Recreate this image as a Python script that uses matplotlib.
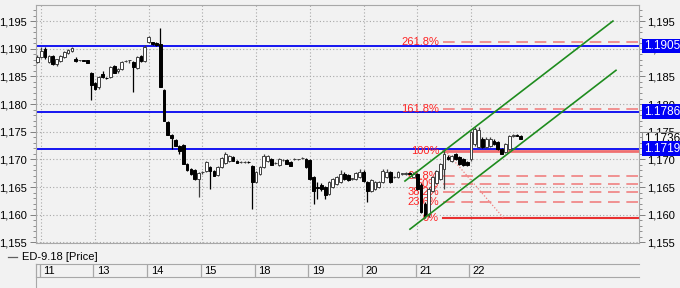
"""Recreate the ED-9.18 hourly candlestick chart with levels, fibo and channel."""

import matplotlib

matplotlib.use("Agg")
import matplotlib.pyplot as plt
from matplotlib.lines import Line2D
from matplotlib.ticker import FuncFormatter, MultipleLocator
from matplotlib.transforms import blended_transform_factory

plt.rcParams["font.family"] = ["Liberation Sans", "DejaVu Sans"]

# --- data ----------------------------------------------------------------
day_labels = ["11", "13", "14", "15", "18", "19", "20", "21", "22"]
day_start_bar = [1, 15, 29, 43, 57, 71, 85, 99, 113]

opens = [
    1.1876, 1.1885, 1.1899, 1.1876, 1.1886, 1.1872, 1.1877, 1.1885, 1.1892, 1.1895, 1.1881, 1.1879, 1.1879, 1.1879,
    1.1856, 1.1838, 1.1830, 1.1854, 1.1848, 1.1849, 1.1868, 1.1859, 1.1863, 1.1877, 1.1879, 1.1876, 1.1865, 1.1886, 1.1877,
    1.1912, 1.1912, 1.1910, 1.1908, 1.1825, 1.1767, 1.1744, 1.1735, 1.1724, 1.1726, 1.1691, 1.1682, 1.1681, 1.1665,
    1.1677, 1.1679, 1.1686, 1.1679, 1.1672, 1.1686, 1.1693, 1.1697, 1.1704, 1.1697, 1.1695, 1.1695, 1.1696,
    1.1688, 1.1659, 1.1674, 1.1686, 1.1697, 1.1700, 1.1693, 1.1690, 1.1699, 1.1699, 1.1695, 1.1700, 1.1700, 1.1702, 1.1700,
    1.1699, 1.1668, 1.1650, 1.1654, 1.1650, 1.1637, 1.1650, 1.1655, 1.1659, 1.1674, 1.1672, 1.1665, 1.1665, 1.1668,
    1.1677, 1.1659, 1.1643, 1.1646, 1.1650, 1.1659, 1.1668, 1.1677, 1.1668, 1.1668, 1.1674, 1.1674, 1.1675, 1.1668,
    1.1674, 1.1654, 1.1619, 1.1601, 1.1643, 1.1657, 1.1665, 1.1682, 1.1704, 1.1697, 1.1709, 1.1704, 1.1700, 1.1695,
    1.1700, 1.1727, 1.1722, 1.1737, 1.1722, 1.1724, 1.1733, 1.1731, 1.1719, 1.1713, 1.1719, 1.1742, 1.1744, 1.1742,
]
highs = [
    1.1888, 1.1903, 1.1903, 1.1888, 1.1888, 1.1882, 1.1888, 1.1895, 1.1899, 1.1903, 1.1885, 1.1880, 1.1880, 1.1880,
    1.1858, 1.1840, 1.1850, 1.1859, 1.1849, 1.1868, 1.1870, 1.1865, 1.1877, 1.1879, 1.1879, 1.1877, 1.1886, 1.1888, 1.1906,
    1.1923, 1.1913, 1.1912, 1.1937, 1.1827, 1.1769, 1.1746, 1.1737, 1.1726, 1.1728, 1.1693, 1.1684, 1.1682, 1.1677,
    1.1679, 1.1697, 1.1688, 1.1681, 1.1688, 1.1704, 1.1713, 1.1708, 1.1706, 1.1699, 1.1697, 1.1697, 1.1698,
    1.1690, 1.1679, 1.1688, 1.1709, 1.1708, 1.1702, 1.1695, 1.1702, 1.1700, 1.1700, 1.1697, 1.1702, 1.1701, 1.1704, 1.1702,
    1.1700, 1.1670, 1.1659, 1.1657, 1.1652, 1.1661, 1.1666, 1.1670, 1.1681, 1.1677, 1.1674, 1.1666, 1.1677, 1.1682,
    1.1681, 1.1661, 1.1665, 1.1661, 1.1661, 1.1682, 1.1682, 1.1679, 1.1670, 1.1679, 1.1675, 1.1677, 1.1677, 1.1677,
    1.1675, 1.1657, 1.1623, 1.1650, 1.1670, 1.1681, 1.1693, 1.1719, 1.1708, 1.1708, 1.1711, 1.1706, 1.1702, 1.1697,
    1.1751, 1.1758, 1.1758, 1.1740, 1.1740, 1.1740, 1.1737, 1.1733, 1.1720, 1.1729, 1.1744, 1.1746, 1.1746, 1.1744,
]
lows = [
    1.1874, 1.1883, 1.1881, 1.1874, 1.1870, 1.1868, 1.1876, 1.1883, 1.1890, 1.1894, 1.1876, 1.1878, 1.1877, 1.1874,
    1.1807, 1.1825, 1.1828, 1.1847, 1.1845, 1.1847, 1.1856, 1.1857, 1.1862, 1.1876, 1.1874, 1.1821, 1.1863, 1.1876, 1.1876,
    1.1910, 1.1906, 1.1905, 1.1830, 1.1769, 1.1744, 1.1719, 1.1724, 1.1709, 1.1691, 1.1679, 1.1672, 1.1663, 1.1632,
    1.1674, 1.1677, 1.1646, 1.1670, 1.1670, 1.1684, 1.1691, 1.1695, 1.1697, 1.1693, 1.1693, 1.1694, 1.1694,
    1.1610, 1.1657, 1.1672, 1.1684, 1.1695, 1.1690, 1.1691, 1.1688, 1.1697, 1.1691, 1.1688, 1.1699, 1.1699, 1.1700, 1.1684,
    1.1663, 1.1619, 1.1628, 1.1643, 1.1628, 1.1636, 1.1648, 1.1654, 1.1657, 1.1663, 1.1661, 1.1663, 1.1663, 1.1666,
    1.1659, 1.1623, 1.1641, 1.1645, 1.1648, 1.1657, 1.1666, 1.1657, 1.1666, 1.1666, 1.1672, 1.1672, 1.1674, 1.1666,
    1.1645, 1.1603, 1.1594, 1.1596, 1.1641, 1.1655, 1.1663, 1.1646, 1.1699, 1.1695, 1.1699, 1.1690, 1.1688, 1.1688,
    1.1698, 1.1724, 1.1720, 1.1720, 1.1720, 1.1722, 1.1726, 1.1717, 1.1709, 1.1711, 1.1717, 1.1740, 1.1742, 1.1736,
]
closes = [
    1.1885, 1.1895, 1.1885, 1.1886, 1.1872, 1.1881, 1.1886, 1.1894, 1.1897, 1.1901, 1.1877, 1.1879, 1.1878, 1.1874,
    1.1834, 1.1827, 1.1849, 1.1849, 1.1847, 1.1867, 1.1856, 1.1863, 1.1876, 1.1878, 1.1879, 1.1867, 1.1885, 1.1877, 1.1904,
    1.1921, 1.1908, 1.1906, 1.1830, 1.1769, 1.1744, 1.1738, 1.1724, 1.1715, 1.1691, 1.1681, 1.1674, 1.1665, 1.1675,
    1.1677, 1.1695, 1.1679, 1.1670, 1.1686, 1.1702, 1.1709, 1.1706, 1.1697, 1.1693, 1.1695, 1.1696, 1.1695,
    1.1659, 1.1677, 1.1686, 1.1706, 1.1706, 1.1690, 1.1693, 1.1700, 1.1699, 1.1691, 1.1688, 1.1700, 1.1700, 1.1702, 1.1686,
    1.1665, 1.1643, 1.1648, 1.1646, 1.1636, 1.1659, 1.1665, 1.1668, 1.1674, 1.1665, 1.1663, 1.1665, 1.1675, 1.1677,
    1.1661, 1.1643, 1.1663, 1.1659, 1.1659, 1.1679, 1.1677, 1.1659, 1.1668, 1.1677, 1.1674, 1.1675, 1.1674, 1.1674,
    1.1646, 1.1605, 1.1597, 1.1646, 1.1668, 1.1679, 1.1691, 1.1709, 1.1700, 1.1706, 1.1700, 1.1691, 1.1690, 1.1690,
    1.1749, 1.1755, 1.1753, 1.1722, 1.1737, 1.1737, 1.1727, 1.1719, 1.1709, 1.1727, 1.1742, 1.1744, 1.1743, 1.1736,
]

level_lines = [1.1905, 1.1786, 1.1719]
last_price = 1.1736

fib_low = 1.1595
fib_high = 1.1716
fib_ratios = [0.0, 0.236, 0.382, 0.5, 0.618, 1.0, 1.618, 2.618]
fib_labels = ["0%", "23.6%", "38.2%", "50%", "61.8%", "100%", "161.8%", "261.8%"]
fib_start_bar = 106.3
fib_end_bar = 121.4

channel_upper_x = [95.8, 150.0]
channel_upper_y = [1.1661, 1.1950]
channel_lower_x = [97.1, 150.8]
channel_lower_y = [1.1574, 1.1861]

# --- figure ----------------------------------------------------------------
BG = "#f2f2f2"
GRID = "#a8a8a8"
W, H = 680, 288

fig = plt.figure(figsize=(W / 100, H / 100), dpi=100, facecolor=BG)


def px_rect(x0, y0, x1, y1):
    return [x0 / W, 1 - y1 / H, (x1 - x0) / W, (y1 - y0) / H]


ax = fig.add_axes(px_rect(35.5, 5, 639, 243))
ax.set_facecolor(BG)
ax.set_xlim(-0.5, 156.8)
ax.set_ylim(1.1549, 1.1979)

for spine in ax.spines.values():
    spine.set_color(GRID)
    spine.set_linewidth(0.8)

comma_fmt = FuncFormatter(lambda v, _: f"{v:.3f}".replace(".", ","))
ax.yaxis.set_major_locator(MultipleLocator(0.005))
ax.yaxis.set_minor_locator(MultipleLocator(0.001))
ax.yaxis.set_major_formatter(comma_fmt)
ax.tick_params(axis="y", which="both", left=True, right=True, labelleft=True, labelright=True,
               colors="#808080", labelcolor="black", labelsize=8, pad=2)
ax.tick_params(axis="y", which="major", length=4, width=0.7)
ax.tick_params(axis="y", which="minor", length=2, width=0.6)
ax.set_xticks([])
ax.grid(True, axis="y", color=GRID, linestyle=(0, (1, 2)), linewidth=0.8, zorder=0)
for start in day_start_bar:
    ax.axvline(start, color=GRID, linestyle=(0, (1, 2)), linewidth=0.8, zorder=0)

# horizontal levels
for level in level_lines:
    ax.axhline(level, color="#1414f0", linewidth=1.4, zorder=2)

# fibonacci
fib_range = fib_high - fib_low
for ratio, label in zip(fib_ratios, fib_labels):
    price = fib_low + fib_range * ratio
    if ratio == 0.0:
        style = dict(color="#e83030", linewidth=1.5, linestyle="-")
    elif ratio == 1.0:
        style = dict(color="#f07070", linewidth=2.0, linestyle="-")
    else:
        style = dict(color="#f08080", linewidth=1.2, linestyle=(0, (7, 4)))
    ax.plot([fib_start_bar - 0.5, 156.8], [price, price], zorder=2, **style)
    ax.text(fib_start_bar - 1.6, price, label, color="#ff2424", fontsize=8,
            ha="right", va="center", zorder=2.5)
ax.plot([fib_start_bar, fib_end_bar], [fib_high, fib_low], color="#f08080",
        linewidth=0.9, linestyle=(0, (1, 1.5)), zorder=2)

# candles
x_values = list(range(len(opens)))
for x, o, h, l, c in zip(x_values, opens, highs, lows, closes):
    down = c < o
    edge = "black" if down else "#404040"
    ax.vlines(x, l, h, color=edge, linewidth=0.9, zorder=3)
    ax.bar(x, max(abs(c - o), 0.00006), bottom=min(o, c), width=0.72,
           color="black" if down else "white", edgecolor=edge, linewidth=0.7, zorder=3.2)

# channel
ax.plot(channel_upper_x, channel_upper_y, color="#1e8c1e", linewidth=1.2, zorder=4)
ax.plot(channel_lower_x, channel_lower_y, color="#1e8c1e", linewidth=1.2, zorder=4)

# right-hand price tags
tag_tr = blended_transform_factory(ax.transAxes, ax.transData)
for level in level_lines:
    ax.text(1.008, level, f"{level:.4f}", transform=tag_tr, fontsize=8.5, color="white",
            ha="left", va="center", clip_on=False, zorder=6,
            bbox=dict(boxstyle="square,pad=0.12", fc="#0000f5", ec="none"))
ax.text(1.008, last_price, f"{last_price:.4f}", transform=tag_tr, fontsize=8.5, color="black",
        ha="left", va="center", clip_on=False, zorder=5,
        bbox=dict(boxstyle="square,pad=0.12", fc="#f8f8f8", ec="#909090", lw=0.8))

# date strip
dax = fig.add_axes(px_rect(35.5, 263.5, 639, 277), sharex=None)
dax.set_facecolor(BG)
dax.set_xlim(ax.get_xlim())
dax.set_ylim(0, 1)
dax.set_xticks([])
dax.set_yticks([])
for spine in dax.spines.values():
    spine.set_color(GRID)
    spine.set_linewidth(0.8)
dax.spines["right"].set_visible(False)
for start, label in zip(day_start_bar, day_labels):
    dax.axvline(start - 0.4, color=GRID, linewidth=0.9)
    dax.text(start + 0.5, 0.45, label, fontsize=8, ha="left", va="center")

fig.add_artist(Line2D([35.5 / W, 35.5 / W], [0, 1 - 263.5 / H], color=GRID, linewidth=0.8))

# legend row
fig.add_artist(Line2D([8 / W, 17 / W], [1 - 257 / H, 1 - 257 / H], color="#606060", linewidth=0.9))
fig.text(22 / W, 1 - 257 / H, "ED-9.18 [Price]", fontsize=8, ha="left", va="center")

fig.savefig("out.png", dpi=100, facecolor=BG)
